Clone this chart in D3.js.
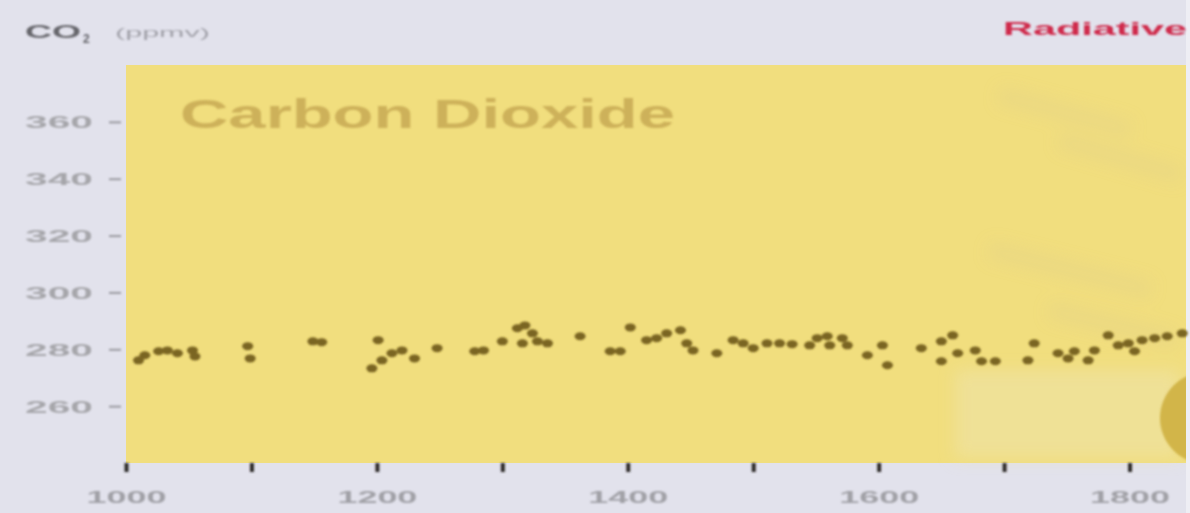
<!DOCTYPE html>
<html>
<head>
<meta charset="utf-8">
<script src="https://cdn.jsdelivr.net/npm/d3@7"></script>
<style>
  html, body { margin: 0; padding: 0; background: #e2e2ec; }
  svg { display: block; }
  text { font-family: "Liberation Sans", Arial, sans-serif; }
</style>
</head>
<body>
<div id="chart"></div>
<script>
// CO2 record, years 1000 - 1845

const years = [1010, 1015, 1026, 1033, 1041, 1053, 1055, 1097, 1099, 1149,
    1156, 1201, 1196, 1204, 1212, 1220, 1230, 1248, 1278, 1285,
    1300, 1312, 1318, 1324, 1316, 1328, 1336, 1362, 1386, 1394,
    1402, 1415, 1423, 1431, 1442, 1447, 1452, 1471, 1484, 1492,
    1500, 1511, 1521, 1531, 1545, 1551, 1559, 1561, 1571, 1575,
    1591, 1603, 1607, 1634, 1650, 1659, 1650, 1663, 1677, 1682,
    1693, 1719, 1724, 1743, 1751, 1756, 1767, 1772, 1783, 1791,
    1799, 1804, 1810, 1820, 1830, 1842];

const co2 = [276.1, 277.9, 279.3, 279.6, 278.6, 279.6, 277.5, 281.1, 276.8, 282.8,
    282.5, 283.2, 273.3, 276.1, 278.6, 279.6, 276.8, 280.4, 279.3, 279.6,
    282.8, 287.4, 288.4, 285.6, 282.1, 282.8, 282.1, 284.6, 279.3, 279.3,
    287.7, 283.2, 283.9, 285.6, 286.7, 282.1, 279.6, 278.6, 283.2, 282.1,
    280.4, 282.1, 282.1, 281.8, 281.4, 283.9, 284.6, 281.4, 283.9, 281.4,
    277.9, 281.4, 274.4, 280.4, 282.8, 284.9, 275.8, 278.6, 279.6, 275.8,
    275.8, 276.1, 282.1, 278.6, 276.8, 279.3, 276.1, 279.6, 284.9, 281.4,
    282.1, 279.3, 283.2, 283.9, 284.6, 285.6];

const yTicks = [260, 280, 300, 320, 340, 360];
const xTicks = [1000, 1100, 1200, 1300, 1400, 1500, 1600, 1700, 1800];
const xLabels = ["1000", "1200", "1400", "1600", "1800"];

const w = 1190, h = 513;
const x_left = 126, x_right = 1186, y_top = 65, y_bottom = 463;

let svg = d3.select("#chart").append("svg")
    .attr("width", w)
    .attr("height", h);

let defs = svg.append("defs");
defs.append("filter").attr("id", "soft")
    .append("feGaussianBlur").attr("stdDeviation", 0.9);
defs.append("filter").attr("id", "haze")
    .append("feGaussianBlur").attr("stdDeviation", 8);

let xScale = d3.scaleLinear().domain([1000, 1845]).range([x_left, x_right]);
let yScale = d3.scaleLinear().domain([240, 380]).range([y_bottom, y_top]);

// page background
svg.append("rect").attr("width", w).attr("height", h).attr("fill", "#e2e2ec");

// yellow plot panel
svg.append("rect")
    .attr("x", x_left).attr("y", y_top)
    .attr("width", x_right - x_left).attr("height", y_bottom - y_top)
    .attr("fill", "#f1de7e");

// faint decorations in the panel (washed out picture in the corner)
let deco = svg.append("g").attr("filter", "url(#haze)");
deco.append("rect")
    .attr("x", 955).attr("y", 370).attr("width", 225).attr("height", 88)
    .attr("fill", "#efe2a6").attr("opacity", 0.6);
[[1000, 95, 1130, 130], [1060, 140, 1180, 175], [990, 250, 1150, 290], [1050, 310, 1175, 340]]
    .forEach(function(l) {
        deco.append("line")
            .attr("x1", l[0]).attr("y1", l[1]).attr("x2", l[2]).attr("y2", l[3])
            .attr("stroke", "#dccd8e").attr("stroke-width", 16).attr("opacity", 0.3);
    });
svg.append("circle")
    .attr("cx", 1206).attr("cy", 418).attr("r", 46)
    .attr("fill", "#d2b548").attr("filter", "url(#soft)");
svg.append("rect").attr("x", x_right).attr("y", 0).attr("width", 4).attr("height", h)
    .attr("fill", "#eeeef4");

// panel title
svg.append("text")
    .attr("x", 180).attr("y", 128)
    .attr("textLength", 495).attr("lengthAdjust", "spacingAndGlyphs")
    .style("font-size", "40px").style("font-weight", "bold")
    .attr("fill", "#cdb15a").attr("filter", "url(#soft)")
    .text("Carbon Dioxide");

// y axis
let yAxis = d3.axisLeft(yScale).tickValues(yTicks).tickFormat(d3.format("d"));
let yG = svg.append("g")
    .attr("transform", "translate(" + x_left + ",0)")
    .attr("filter", "url(#soft)")
    .call(yAxis);
yG.select(".domain").remove();
yG.selectAll(".tick line")
    .attr("x1", -17).attr("x2", -5)
    .attr("stroke", "#9a9aa0").attr("stroke-width", 2);
yG.selectAll(".tick text")
    .attr("x", -33).attr("dy", "0.35em")
    .attr("textLength", 68).attr("lengthAdjust", "spacingAndGlyphs")
    .style("font-size", "17px").style("font-weight", "bold")
    .attr("fill", "#a6a6aa");

// x axis
let xAxis = d3.axisBottom(xScale).tickValues(xTicks).tickSize(9)
    .tickFormat(function(d) { return xLabels.includes(String(d)) ? String(d) : ""; });
let xG = svg.append("g")
    .attr("transform", "translate(0," + y_bottom + ")")
    .attr("filter", "url(#soft)")
    .call(xAxis);
xG.select(".domain").remove();
xG.selectAll(".tick line").attr("stroke", "#2e2c28").attr("stroke-width", 4);
xG.selectAll(".tick text")
    .attr("y", 40).attr("dy", 0)
    .attr("textLength", function(d) { return xLabels.includes(String(d)) ? 80 : null; })
    .attr("lengthAdjust", "spacingAndGlyphs")
    .style("font-size", "17px").style("font-weight", "bold")
    .attr("fill", "#a0a0a6");

// axis lines
svg.append("line")
    .attr("x1", x_left).attr("y1", y_top).attr("x2", x_left).attr("y2", y_bottom)
    .attr("stroke", "#6e6848").attr("stroke-width", 3).attr("filter", "url(#soft)");
svg.append("line")
    .attr("x1", x_left).attr("y1", y_bottom).attr("x2", x_right).attr("y2", y_bottom)
    .attr("stroke", "#3e3a2c").attr("stroke-width", 3).attr("filter", "url(#soft)");

// data points
let pts = years.map(function(y, i) { return {year: y, co2: co2[i]}; });
svg.append("g").attr("filter", "url(#soft)")
    .selectAll("ellipse").data(pts).enter().append("ellipse")
    .attr("cx", function(d) { return xScale(d.year); })
    .attr("cy", function(d) { return yScale(d.co2); })
    .attr("rx", 5.5).attr("ry", 4)
    .attr("fill", "#7a6522");

// top labels
let lab = svg.append("text").attr("x", 25).attr("y", 38).attr("filter", "url(#soft)");
lab.append("tspan")
    .attr("textLength", 56).attr("lengthAdjust", "spacingAndGlyphs")
    .style("font-size", "19px").style("font-weight", "bold").attr("fill", "#66666c")
    .text("CO");
lab.append("tspan").attr("dy", 5).attr("dx", 2)
    .style("font-size", "12px").style("font-weight", "bold").attr("fill", "#66666c")
    .text("2");
svg.append("text")
    .attr("x", 115).attr("y", 37)
    .attr("textLength", 95).attr("lengthAdjust", "spacingAndGlyphs")
    .style("font-size", "12px").attr("fill", "#a2a2aa").attr("filter", "url(#soft)")
    .text("(ppmv)");
svg.append("text")
    .attr("x", 1003).attr("y", 35)
    .attr("textLength", 184).attr("lengthAdjust", "spacingAndGlyphs")
    .style("font-size", "19px").style("font-weight", "bold")
    .attr("fill", "#cf2a4c").attr("filter", "url(#soft)")
    .text("Radiative");
</script>
</body>
</html>
